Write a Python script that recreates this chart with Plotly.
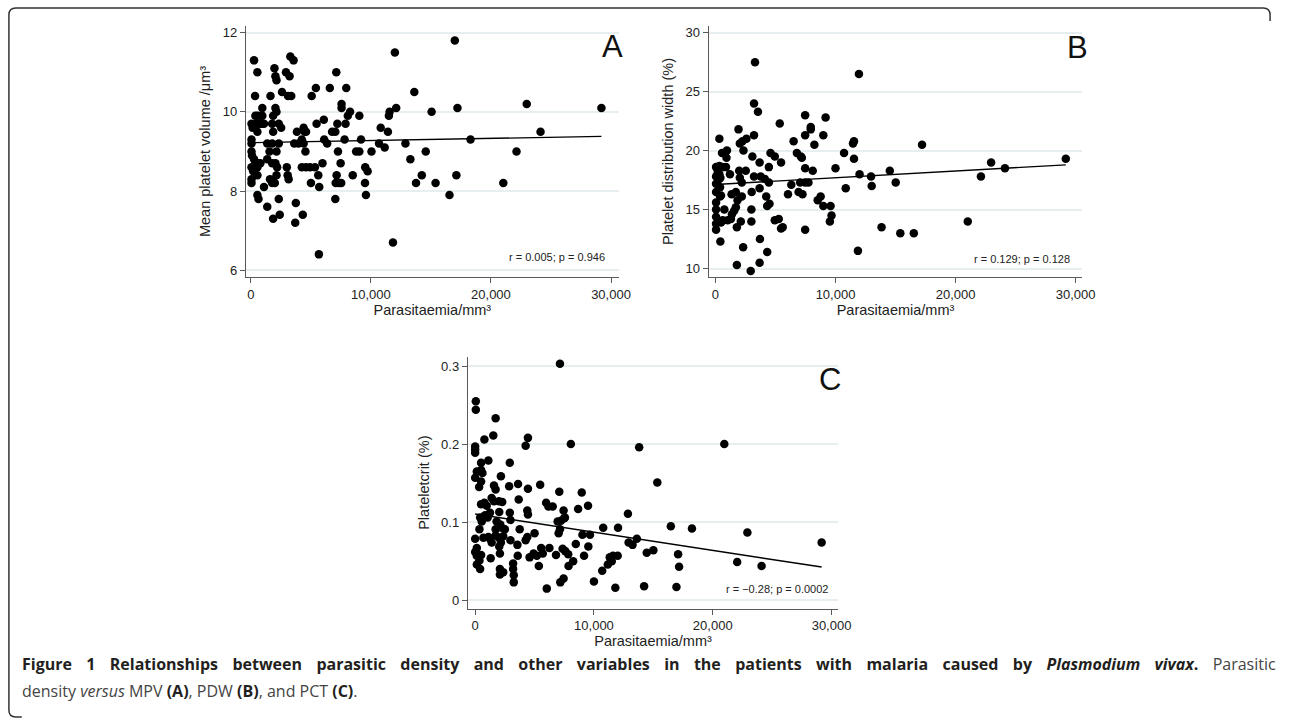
import plotly.graph_objects as go

# ---------------- data ----------------
A_x = [270, 550, 356, 60, 60, 60, 60, 60, 60, 60, 150, 100, 200,
       270, 380, 380, 380, 380, 550, 550, 550, 550, 550, 640, 640, 640,
       800, 800, 800, 960, 960, 960, 1100, 1100, 1370, 1370, 1370,
       1640, 1970, 2050, 2140, 2600, 2930, 3230, 3290, 3560, 3100, 3370,
       2050, 2140, 1860, 1780, 2330, 2530, 1860, 1780, 2330, 1560, 2140,
       1780, 2050, 2190, 2140, 1780, 2000, 1600, 2330, 1860, 2410,
       3000, 3070, 3150, 3840, 3620, 3970, 3750, 3700, 4330,
       4400, 4490, 4600, 4250, 4400, 4550, 4250, 4600, 4930, 5340, 5010,
       5070, 5420, 5480, 5620, 5700, 5670, 5970, 6080, 6110, 6360, 6580,
       6770, 7120, 7210, 7040, 7260, 7070, 7340, 7530, 7150, 7040, 7480,
       7560, 7560, 7810, 7890, 7950, 8080, 8270, 8490, 9040, 8770, 9040,
       9180, 9530, 9730, 9510, 9590, 10050, 10820, 10680, 11150, 11420,
       11500, 11560, 12110, 12000, 11840, 12880, 13290, 13620, 13760,
       14240, 14570, 15060, 15390, 16550, 16990, 17120, 17210, 18300,
       21030, 22130, 22980, 24130, 29200]
A_y = [11.3, 11.0, 10.4, 9.3, 9.2, 9.0, 9.7, 8.6, 8.3, 8.2, 9.6, 8.9, 8.5,
       8.8, 8.7, 9.9, 9.7, 8.6, 9.9, 9.5, 8.6, 8.4, 7.9, 7.8, 9.7, 8.7,
       9.9, 9.7, 8.7, 10.1, 9.9, 9.7, 9.7, 8.1, 9.2, 8.8, 7.6,
       10.4, 11.1, 10.9, 10.8, 10.5, 11.0, 10.9, 11.4, 11.3, 10.4, 10.4,
       10.1, 10.0, 9.9, 9.7, 9.7, 9.6, 9.5, 9.2, 9.2, 9.0, 9.0,
       8.7, 8.7, 8.6, 8.4, 8.2, 8.2, 8.3, 7.8, 7.3, 7.4,
       8.6, 8.4, 8.3, 9.5, 9.2, 9.2, 7.7, 7.2, 7.4,
       9.6, 9.5, 9.5, 9.3, 9.2, 9.0, 8.6, 8.6, 8.6, 8.6, 8.2,
       10.4, 10.6, 9.7, 8.4, 8.1, 6.4, 8.7, 9.8, 9.3, 9.2, 10.6,
       9.5, 11.0, 9.7, 9.5, 9.0, 8.2, 8.2, 8.2, 8.4, 7.8, 8.7,
       10.2, 10.1, 9.3, 9.7, 10.6, 9.9, 10.0, 8.4, 9.9, 9.0, 9.0,
       9.3, 8.6, 8.5, 8.2, 7.9, 9.0, 9.6, 9.2, 9.1, 9.5,
       9.9, 10.0, 10.1, 11.5, 6.7, 9.2, 8.8, 10.5, 8.2,
       8.4, 9.0, 10.0, 8.2, 7.9, 11.8, 8.4, 10.1, 9.3,
       8.2, 9.0, 10.2, 9.5, 10.1]
A_fit_x = [0, 29200]
A_fit_y = [9.22, 9.38]
A_stat = "r = 0.005; p = 0.946"

B_x = [3297, 3215, 3544, 5357, 7473, 7940, 7940, 9176, 8984, 8242, 7473, 6512,
       1924, 330, 2583, 2033, 2253, 3215, 2335, 962, 549, 923, 3077, 3681,
       4588, 4946, 5467, 6785, 7116, 7199, 8104, 7473, 10000, 10714, 11538,
       11456, 11538, 11951, 12005, 11868, 10851, 8516, 8764, 8984, 9588,
       9670, 9533, 7473, 7060, 7473, 7747, 6923, 7253, 6319, 6044, 5275,
       5604, 4945, 5467, 4313, 4505, 4231, 4451, 4121, 4451, 3764, 3214,
       3022, 3681, 2995, 2995, 3709, 3681, 2940, 4313, 2308, 1786, 412,
       2115, 1786, 1978, 2033, 2198, 2527, 2198, 1703, 1841, 1703, 1566,
       1374, 1291, 1016, 1346, 1209, 742, 604, 467, 330, 412, 330, 385,
       467, 385, 330, 604, 879, 55, 55, 55, 55, 55, 55, 55, 55, 55, 192,
       12959, 13014, 14521, 15014, 13836, 15397, 16521, 17206, 21014,
       22110, 22959, 24110, 29178]
B_y = [27.5, 24.0, 23.3, 22.3, 23.0, 22.0, 21.8, 22.8, 21.3, 20.5, 21.3, 20.8,
       21.8, 21.0, 21.0, 20.6, 20.8, 21.3, 20.0, 20.0, 19.8, 19.4, 19.5, 19.0,
       19.8, 19.5, 19.0, 19.8, 19.5, 19.4, 18.3, 18.5, 18.5, 19.8, 19.3,
       20.6, 20.8, 26.5, 18.0, 11.5, 16.8, 15.8, 16.1, 15.3, 15.3,
       14.5, 14.0, 13.3, 17.3, 17.3, 17.3, 16.5, 16.3, 17.1, 16.3, 14.2,
       13.5, 14.1, 13.4, 15.3, 15.5, 16.1, 18.6, 17.6, 17.3, 17.8, 17.8,
       16.5, 16.8, 15.0, 14.0, 12.5, 10.5, 9.8, 11.4, 11.8, 10.3, 12.3,
       14.0, 13.5, 18.3, 17.7, 17.3, 18.3, 16.1, 16.5, 15.8, 15.2, 14.9,
       14.6, 14.2, 14.1, 16.3, 18.0, 15.0, 14.1, 13.9, 18.0, 17.7, 17.6, 16.9,
       16.2, 16.1, 18.7, 18.6, 18.6, 18.6, 17.8, 17.2, 16.5, 15.6, 15.0, 14.4, 13.8, 13.3, 18.1,
       17.8, 17.0, 18.3, 17.3, 13.5, 13.0, 13.0, 20.5, 14.0,
       17.8, 19.0, 18.5, 19.3]
B_fit_x = [0, 29178]
B_fit_y = [17.13, 18.79]
B_stat = "r = 0.129; p = 0.128"

C_x = [7139, 56, 56, 1722, 1528, 778, 4444, 4250, 8056, 0, 0, 0, 1111, 500, 2917,
       139, 500, 611, 0, 500, 333, 2167, 1583, 1722, 3611, 4444, 5472, 2861,
       7083, 8972, 3667, 1389, 1583, 2000, 2278, 500, 778, 972, 5972, 6167,
       6528, 7444, 7556, 8667, 9500, 4389, 4444, 2917, 2972, 2028, 1250, 417,
       556, 361, 833, 1056, 1806, 2111, 2222, 2500, 2361, 2000, 2167, 1722,
       1722, 1250, 1389, 694, 1111, 0, 139, 0, 139, 361, 139, 417, 500, 1306,
       2028, 2083, 2083, 2361, 2083, 2972, 3194, 3194, 3250, 3250, 3556, 3750,
       3583, 4250, 4389, 4583, 4917, 5000, 5194, 5361, 5556, 5694, 6250, 6028,
       6806, 7028, 7139, 6944, 7222, 7500, 7361, 7583, 7833, 7861, 8250, 7167,
       7444, 8472, 9028, 9167, 9528, 9667, 10000, 10778, 10694, 11167, 11500,
       11333, 11600, 12000, 11800, 12028, 12861, 12917, 13250, 13611, 13806,
       14222, 14444, 15000, 15333, 16472, 16944, 17083, 17167, 18250, 20972,
       22056, 22917, 24111, 29167]
C_y = [0.303, 0.244, 0.255, 0.233, 0.211, 0.206, 0.208, 0.198, 0.200, 0.197, 0.193, 0.189, 0.179, 0.176, 0.176,
       0.165, 0.167, 0.163, 0.157, 0.152, 0.145, 0.159, 0.147, 0.142, 0.149, 0.143, 0.148, 0.146,
       0.139, 0.138, 0.129, 0.131, 0.127, 0.127, 0.126, 0.123, 0.125, 0.121, 0.125, 0.120,
       0.120, 0.115, 0.106, 0.117, 0.121, 0.115, 0.110, 0.112, 0.103, 0.113, 0.112, 0.106,
       0.101, 0.091, 0.109, 0.106, 0.101, 0.097, 0.093, 0.091, 0.082, 0.080, 0.074, 0.091,
       0.083, 0.079, 0.074, 0.080, 0.081, 0.079, 0.067, 0.062, 0.057, 0.051, 0.046, 0.040, 0.058, 0.054,
       0.069, 0.060, 0.040, 0.036, 0.033, 0.077, 0.047, 0.040, 0.032, 0.023, 0.071, 0.091,
       0.057, 0.077, 0.081, 0.055, 0.060, 0.086, 0.057, 0.044, 0.067, 0.060, 0.067, 0.015,
       0.058, 0.086, 0.091, 0.101, 0.102, 0.105, 0.066, 0.063, 0.059, 0.044, 0.050, 0.023,
       0.028, 0.072, 0.084, 0.057, 0.069, 0.084, 0.024, 0.093, 0.038, 0.046, 0.050,
       0.055, 0.057, 0.057, 0.016, 0.093, 0.111, 0.074, 0.071, 0.079, 0.196,
       0.018, 0.061, 0.064, 0.151, 0.095, 0.017, 0.059, 0.043, 0.092, 0.200,
       0.049, 0.087, 0.044, 0.074]
C_fit_x = [0, 29167]
C_fit_y = [0.1106, 0.0426]
C_stat = "r = \u22120.28; p = 0.0002"

x_ticks = [0, 10000, 20000, 30000]
A_yticks = [6, 8, 10, 12]
B_yticks = [10, 15, 20, 25, 30]
C_yticks = [0, 0.1, 0.2, 0.3]
x_title = "Parasitaemia/mm\u00b3"
A_ytitle = "Mean platelet volume /\u03bcm\u00b3"
B_ytitle = "Platelet distribution width (%)"
C_ytitle = "Plateletcrit (%)"

# ---------------- layout helpers ----------------
W, H = 1290, 723
def px(x):
    return x / W
def py(y):
    return 1 - y / H

FONT = "Liberation Sans, Arial, Helvetica, sans-serif"
AX = "#5a5a5a"
GRID = "#e6eeef"

fig = go.Figure()

panels = [
    ("x", "y", A_x, A_y, A_fit_x, A_fit_y),
    ("x2", "y2", B_x, B_y, B_fit_x, B_fit_y),
    ("x3", "y3", C_x, C_y, C_fit_x, C_fit_y),
]
for xa, ya, xs, ys, fx, fy in panels:
    fig.add_trace(go.Scatter(x=xs, y=ys, mode="markers", xaxis=xa, yaxis=ya,
                             marker=dict(color="black", size=8.5, line=dict(width=0)),
                             hoverinfo="x+y"))
    fig.add_trace(go.Scatter(x=fx, y=fy, mode="lines", xaxis=xa, yaxis=ya,
                             line=dict(color="black", width=1.4), hoverinfo="skip"))

def xaxis(domain, rng):
    return dict(domain=domain, range=rng, tickvals=x_ticks, tickformat=",d",
                showgrid=False, zeroline=False, showline=True, linecolor=AX, linewidth=1.3,
                ticks="outside", ticklen=5, tickcolor=AX, tickwidth=1.1,
                tickfont=dict(family=FONT, size=13, color="#222"),
                title=dict(text=x_title, font=dict(family=FONT, size=14.5, color="#222"), standoff=2))

def yaxis(domain, rng, ticks, title, anchor):
    return dict(domain=domain, range=rng, tickvals=ticks, anchor=anchor,
                showgrid=True, gridcolor=GRID, gridwidth=1.5, zeroline=False,
                showline=True, linecolor=AX, linewidth=1.3,
                ticks="outside", ticklen=5, tickcolor=AX, tickwidth=1.1,
                tickfont=dict(family=FONT, size=13, color="#222"),
                title=dict(text=title, font=dict(family=FONT, size=14.5, color="#222"), standoff=8))

A_xd = [px(248.5), px(625)]
B_xd = [px(716), px(1093.3)]
C_xd = [px(472.7), px(846.7)]
AB_yd = [py(276.7), py(25)]
C_yd = [py(609.3), py(356.7)]

fig.update_layout(
    width=W, height=H, margin=dict(l=0, r=0, t=0, b=0),
    paper_bgcolor="white", plot_bgcolor="white", showlegend=False,
    xaxis=dict(**xaxis(A_xd, [-400, 30640]), anchor="y"),
    yaxis=yaxis(AB_yd, [5.83, 12.17], A_yticks, A_ytitle, "x"),
    xaxis2=dict(**xaxis(B_xd, [-552, 30550]), anchor="y2"),
    yaxis2=yaxis(AB_yd, [9.29, 30.57], B_yticks, B_ytitle, "x2"),
    xaxis3=dict(**xaxis(C_xd, [-608, 30558]), anchor="y3"),
    yaxis3=yaxis(C_yd, [-0.0106, 0.3119], C_yticks, C_ytitle, "x3"),
)

ann = []
for ax, letter, lx, ly, stat, sx, sy in [
    ("", "A", 0.984, 0.92, A_stat, 0.968, 0.078),
    ("2", "B", 0.986, 0.913, B_stat, 0.973, 0.07),
    ("3", "C", 0.979, 0.908, C_stat, 0.979, 0.076),
]:
    ann.append(dict(xref=f"x{ax} domain", yref=f"y{ax} domain", x=lx, y=ly, text=letter,
                    showarrow=False, xanchor="center", yanchor="middle",
                    font=dict(family=FONT, size=31, color="#111")))
    ann.append(dict(xref=f"x{ax} domain", yref=f"y{ax} domain", x=sx, y=sy, text=stat,
                    showarrow=False, xanchor="right", yanchor="middle",
                    font=dict(family=FONT, size=11, color="#222")))

CAP = "Open Sans, Noto Sans, sans-serif"
ann.append(dict(xref="paper", yref="paper", x=px(20), y=py(665), xanchor="left", yanchor="middle",
                showarrow=False,
                text=("<span style='word-spacing:10.2px'><b>Figure 1 Relationships between parasitic density and other variables in the "
                      "patients with malaria caused by <i>Plasmodium vivax</i>.</b> "
                      "<span style='color:#444'>Parasitic</span></span>"),
                font=dict(family=CAP, size=16, color="#231f20")))
ann.append(dict(xref="paper", yref="paper", x=px(20), y=py(692), xanchor="left", yanchor="middle",
                showarrow=False,
                text=("<span style='color:#444'>density <i>versus</i> MPV </span><b>(A)</b>"
                      "<span style='color:#444'>, PDW </span><b>(B)</b>"
                      "<span style='color:#444'>, and PCT </span><b>(C)</b><span style='color:#444'>.</span>"),
                font=dict(family=CAP, size=16, color="#231f20")))
fig.update_layout(annotations=ann)

# frame (rounded bracket-style border)
r = 7
pts = (f"M {px(1283)},{py(20)} L {px(1283)},{py(7 + r)} Q {px(1283)},{py(7)} {px(1283 - r)},{py(7)} "
       f"L {px(9 + r)},{py(7)} Q {px(9)},{py(7)} {px(9)},{py(7 + r)} "
       f"L {px(9)},{py(718 - r)} Q {px(9)},{py(718)} {px(9 + r)},{py(718)} L {px(22)},{py(718)}")
fig.add_shape(type="path", xref="paper", yref="paper", path=pts,
              line=dict(color="#333", width=1.5))

fig.write_html("out.html", config={"displayModeBar": False},
               post_script="document.body.style.margin='0';document.body.style.overflow='hidden';")
